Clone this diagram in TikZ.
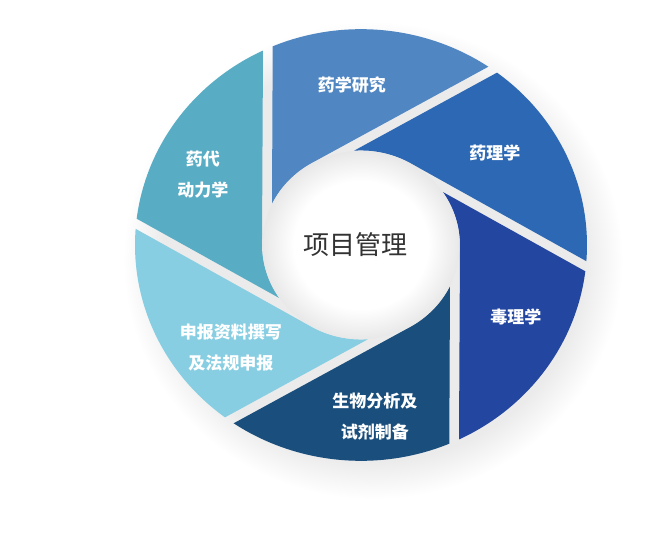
\documentclass[tikz,border=0pt]{standalone}
\usepackage{fontspec}
\newfontfamily\cjkfont{Noto Sans CJK SC}

\definecolor{yxyj}{RGB}{80,134,194}
\definecolor{ylx}{RGB}{44,104,180}
\definecolor{dlx}{RGB}{35,70,160}
\definecolor{swfx}{RGB}{26,78,124}
\definecolor{sbzl}{RGB}{136,206,226}
\definecolor{yd}{RGB}{88,172,196}
\definecolor{hubtext}{RGB}{50,50,50}

\pgfdeclareradialshading{ringshadow}{\pgfpoint{0bp}{0bp}}{color(0bp)=(black!8); color(21bp)=(black!8); color(25bp)=(white); color(50bp)=(white)}
\pgfdeclareradialshading{hubshade}{\pgfpoint{0bp}{0bp}}{color(0bp)=(white); color(17bp)=(white); color(25bp)=(black!9); color(50bp)=(black!9)}

\tikzset{
  blade text/.style={text=white, align=center, font=\cjkfont\bfseries\fontsize{17}{31}\selectfont},
  hub text/.style={text=hubtext, font=\cjkfont\fontsize{26}{30}\selectfont}
}

\begin{document}
\begin{tikzpicture}[x=1pt, y=1pt]

  \useasboundingbox (-361,-293) rectangle (304,245);
  \fill[white] (-361,-293) rectangle (304,245);

  \begin{scope}[yscale=0.955]
    % soft shadow under the ring, it falls to the lower right
    \shade[shading=ringshadow] (12,-16) circle[radius=250];

    % the six shutter blades: one outline, turned by 60 degrees each time
    \foreach \rot/\col in {0/yxyj, -60/ylx, -120/dlx, -180/swfx, -240/sbzl, -300/yd}{
      \fill[\col, rotate=\rot] (113:226) -- (154:99)
        arc[start angle=154, end angle=120, radius=99] -- (55.7:226)
        arc[start angle=55.7, end angle=113, radius=226] -- cycle;
    }

    % the open middle
    \shade[shading=hubshade] (0,0) circle[radius=98.5];
  \end{scope}

  \node[hub text] (hub) at (-5,0) {项目管理};

  % blade labels
  \node[blade text] (yxyj) at (-9,160) {药学研究};
  \node[blade text] (ylx) at (134,92) {药理学};
  \node[blade text] (dlx) at (155,-72) {毒理学};
  \node[blade text] (swfx) at (14,-172) {生物分析及\\试剂制备};
  \node[blade text] (sbzl) at (-130,-103) {申报资料撰写\\及法规申报};
  \node[blade text] (yd) at (-158,70) {药代\\动力学};

\end{tikzpicture}
\end{document}
